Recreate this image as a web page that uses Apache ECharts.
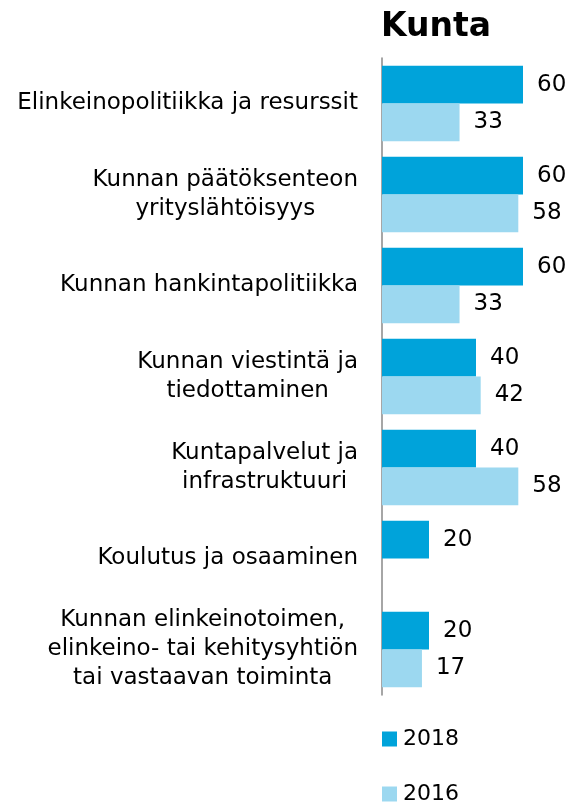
<!DOCTYPE html>
<html>
<head>
<meta charset="utf-8">
<script src="https://cdn.jsdelivr.net/npm/echarts@6/dist/echarts.min.js"></script>
<style>
  html, body { margin: 0; padding: 0; background: #fff; }
  #chart { width: 571px; height: 804px; }
</style>
</head>
<body>
<div id="chart"></div>
<script>
var categories = [
    'Elinkeinopolitiikka ja resurssit',
    'Kunnan päätöksenteon\nyrityslähtöisyys',
    'Kunnan hankintapolitiikka',
    'Kunnan viestintä ja\ntiedottaminen',
    'Kuntapalvelut ja\ninfrastruktuuri',
    'Koulutus ja osaaminen',
    'Kunnan elinkeinotoimen,\nelinkeino- tai kehitysyhtiön\ntai vastaavan toiminta'
];
var values2018 = [60, 60, 60, 40, 40, 20, 20];
var values2016 = [33, 58, 33, 42, 58, null, 17];

var font = 'DejaVu Sans';
var myChart = echarts.init(document.getElementById('chart'));

var option = {
    animation: false,
    title: {
        text: 'Kunta',
        left: 376,
        top: 6,
        textStyle: { fontFamily: font, fontSize: 33, fontWeight: 'bold', color: '#000' }
    },
    legend: {
        orient: 'vertical',
        left: 377,
        top: 722,
        height: 120,
        itemWidth: 15,
        itemHeight: 15,
        itemGap: 31,
        icon: 'rect',
        textStyle: { fontFamily: font, fontSize: 22, lineHeight: 24, color: '#000', padding: [0, 0, 0, 1] },
        data: ['2018', '2016']
    },
    grid: { left: 382, right: 48, top: 58, bottom: 109 },
    xAxis: {
        type: 'value',
        min: 0,
        max: 60,
        show: false
    },
    yAxis: {
        type: 'category',
        inverse: true,
        data: categories,
        axisLine: { show: true, lineStyle: { color: '#888', width: 1.5 } },
        axisTick: { show: false },
        axisLabel: {
            margin: 24,
            align: 'right',
            lineHeight: 29,
            formatter: function (v) {
                return v.split('\n').map(function (l) { return '{c|' + l + '}'; }).join('\n');
            },
            rich: {
                c: { align: 'center', fontFamily: font, fontSize: 23, color: '#000', lineHeight: 29 }
            }
        }
    },
    series: [
        {
            name: '2018',
            type: 'bar',
            data: values2018,
            barGap: '0%',
            barCategoryGap: '17%',
            itemStyle: { color: '#00A3DA' },
            label: { show: true, position: 'right', distance: 14, fontFamily: font, fontSize: 23, color: '#000' }
        },
        {
            name: '2016',
            type: 'bar',
            data: values2016,
            itemStyle: { color: '#9CD8F0' },
            label: { show: true, position: 'right', distance: 14, fontFamily: font, fontSize: 23, color: '#000' }
        }
    ]
};
myChart.setOption(option);
</script>
</body>
</html>
